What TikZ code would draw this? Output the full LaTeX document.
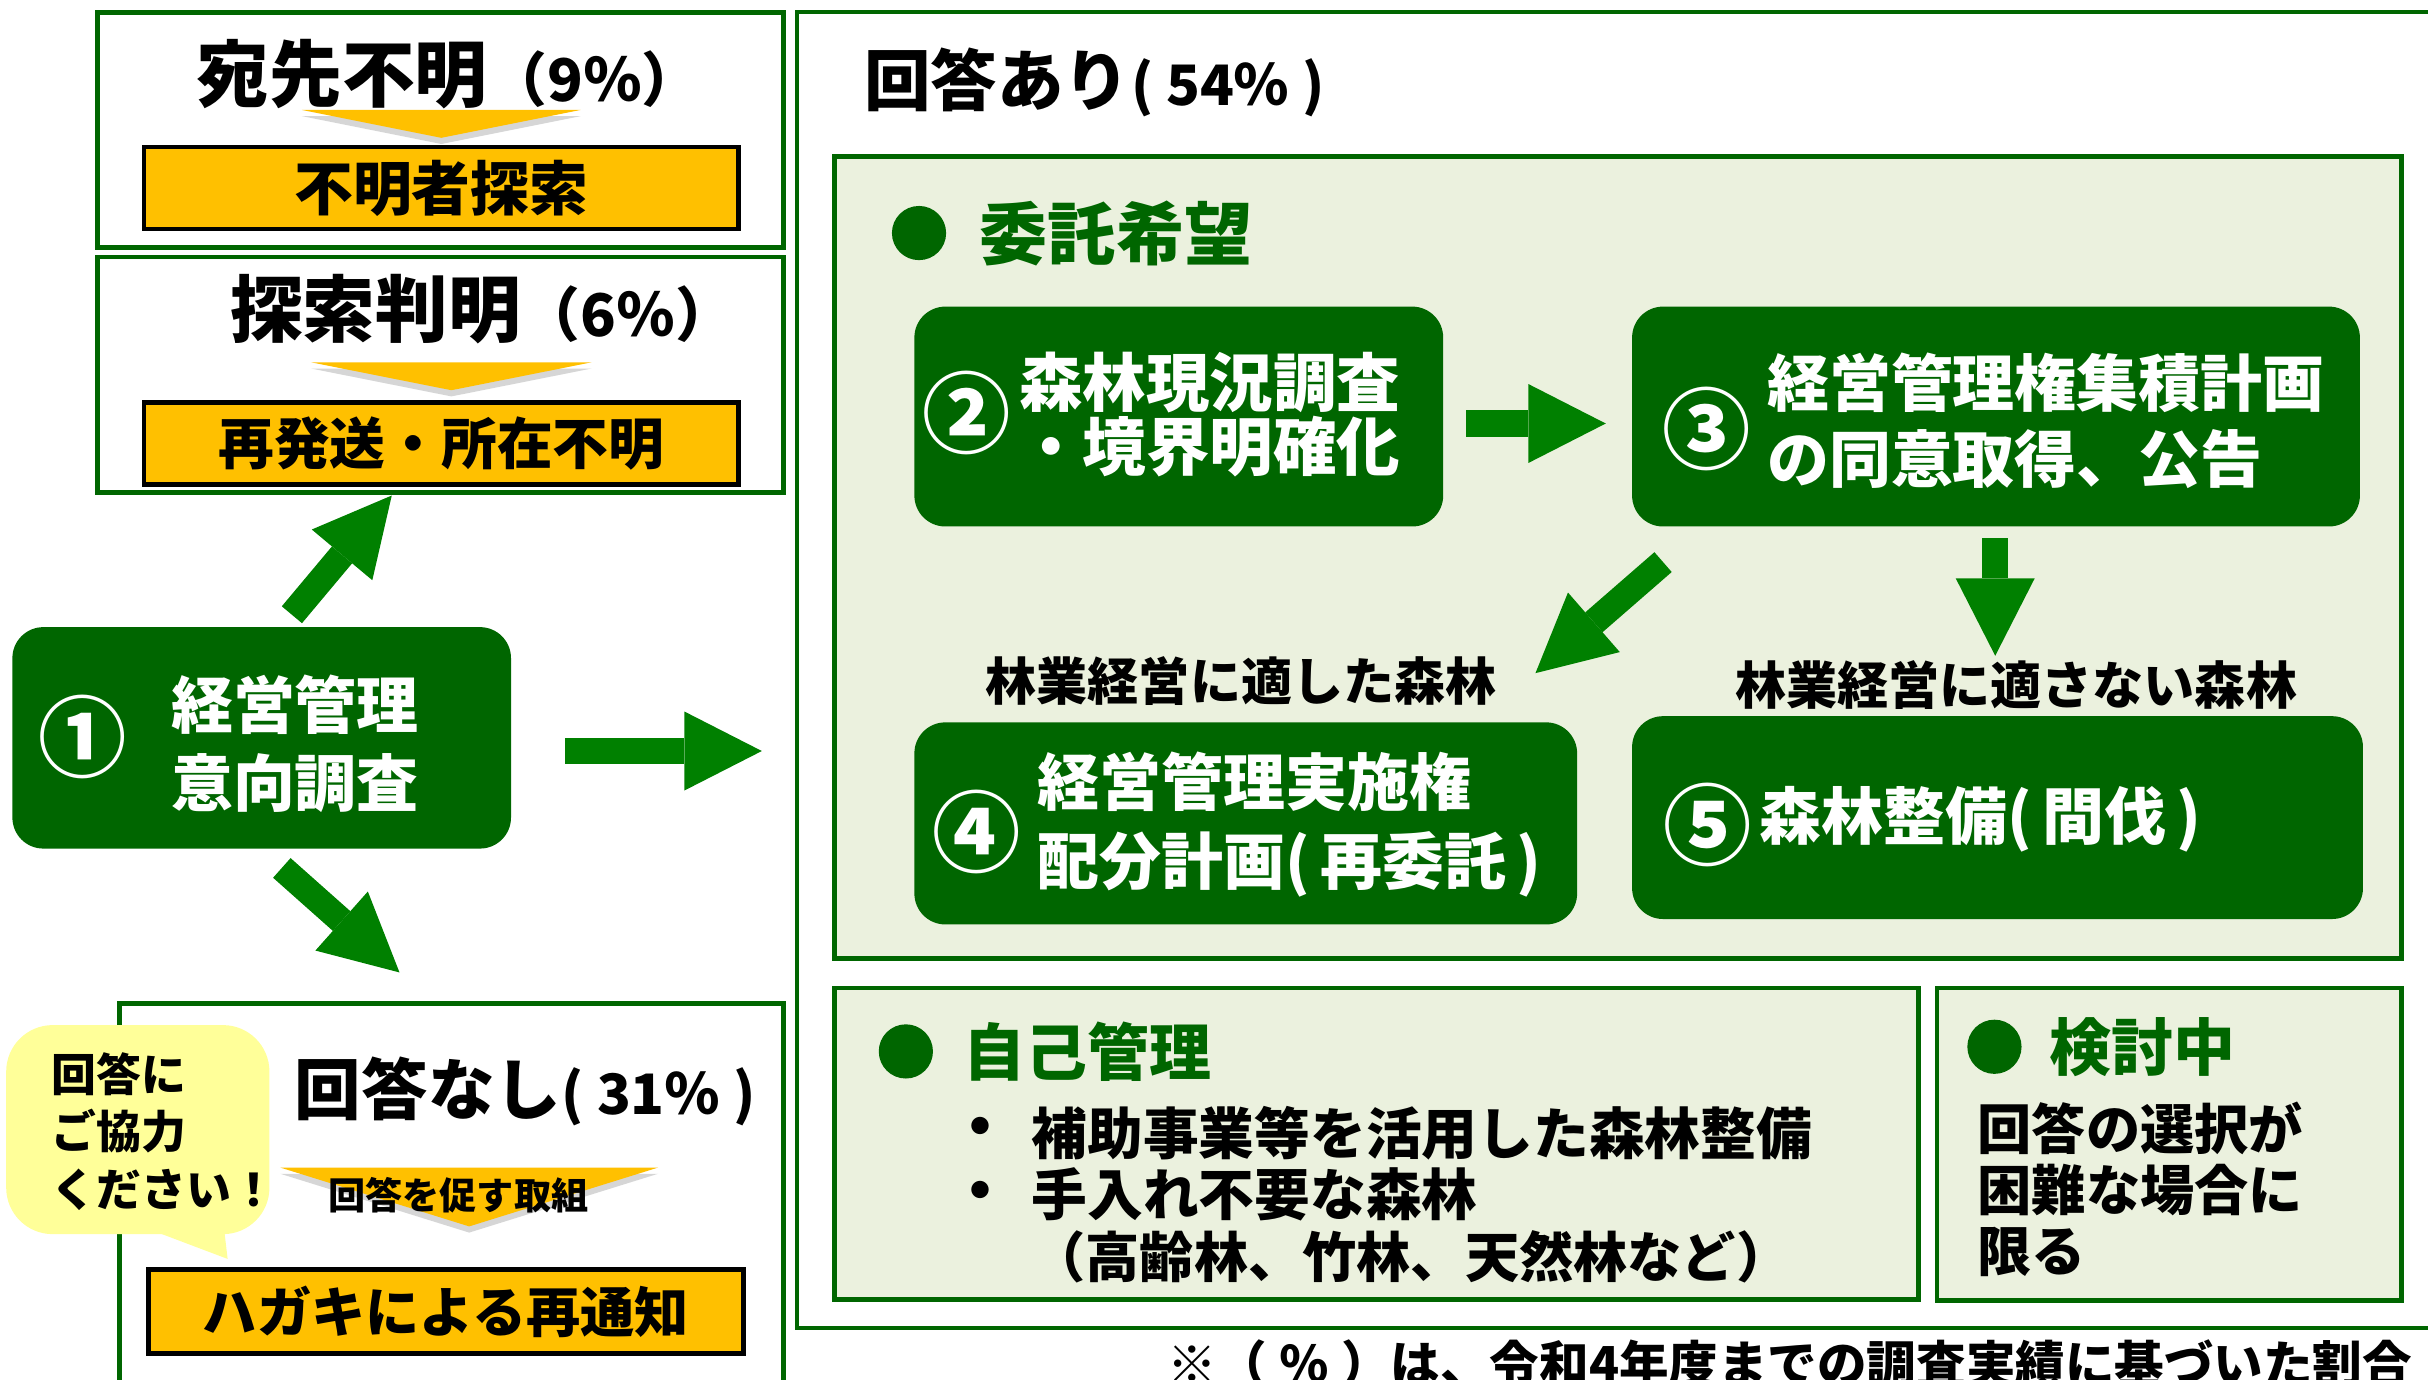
\documentclass[tikz,border=0pt]{standalone}
\usepackage{fontspec}
\setmainfont{Noto Sans CJK JP}
\usetikzlibrary{arrows.meta}
\definecolor{forest}{RGB}{0,102,0}
\definecolor{leaf}{RGB}{0,128,0}
\definecolor{pale}{RGB}{235,241,222}
\definecolor{amber}{RGB}{255,192,0}
\definecolor{lemon}{RGB}{255,255,153}
\newcommand{\fsz}[2]{\fontsize{#1}{#2}\selectfont}

\begin{document}
\begin{tikzpicture}[x=1pt, y=-1pt,
  frame/.style={draw=forest, line width=3pt, fill=white, inner sep=0pt},
  pane/.style={draw=forest, line width=3pt, fill=pale, inner sep=0pt},
  stage/.style={fill=forest, rounded corners=20pt, inner sep=0pt},
  tag/.style={draw=black, line width=3pt, fill=amber, inner sep=0pt, font=\bfseries\fsz{#1}{#1}},
  ttl/.style={font=\bfseries\fsz{#1}{#1}, inner sep=0pt},
  lst/.style 2 args={font=\bfseries\fsz{#1}{#2}, inner sep=0pt, align=left},
  wtxt/.style 2 args={text=white, font=\bfseries\fsz{#1}{#2}, inner sep=0pt, align=left},
  num/.style={text=white, font=\bfseries\fsz{57}{57}, inner sep=0pt},
  hdr/.style={text=forest, font=\bfseries\fsz{#1}{#1}, inner sep=0pt},
  dot/.style={circle, fill=forest, minimum size=35pt, inner sep=0pt},
  fat/.style={leaf, line width=17pt, -{Triangle[length=50pt 0 0, width=51pt 0 0, line width=0pt 0 0]}},
  wedge/.style={fill=amber},
  shade/.style={fill=black!35, opacity=0.45}]
\useasboundingbox (0,0) rectangle (1568,891);

\node[frame, minimum width=443, minimum height=152] (boxA) at (284.5,84) {};
\node[frame, minimum width=443, minimum height=152] (boxB) at (284.5,242) {};
\node[frame, minimum width=429, minimum height=312] (boxC) at (291.5,804) {};
\node[frame, line width=2.5pt, minimum width=1185, minimum height=849.5] (ans) at (1107,432.75) {};
\node[pane, minimum width=1012, minimum height=518] (wish) at (1045,360) {};
\node[pane, minimum width=700, minimum height=201] (self) at (889,738.5) {};
\node[pane, minimum width=300, minimum height=202] (tbd) at (1401,739) {};

\node[ttl=47] (hA) at (221,48) {宛先不明};
\node[ttl=38, anchor=base west] (pA) at (hA.base east) {（9％）};
\fill[shade] (195,75) -- (375,75) -- (285,93) -- cycle;
\fill[wedge] (195,71) -- (375,71) -- (285,89) -- cycle;
\node[tag=38, minimum width=384, minimum height=53] (tA) at (285,121.5) {不明者探索};

\node[ttl=47] (hB) at (242.6,199.5) {探索判明};
\node[ttl=38, anchor=base west] (pB) at (hB.base east) {（6％）};
\fill[shade] (201,238) -- (382,238) -- (291.5,256) -- cycle;
\fill[wedge] (201,234) -- (382,234) -- (291.5,252) -- cycle;
\node[tag=36, minimum width=384, minimum height=53] (tB) at (285,286.5) {再発送・所在不明};

\node[ttl=43] (hC) at (276.5,703.5) {回答なし};
\node[ttl=36, anchor=base west] (pC) at (hC.base east) {( 31％ )};
\fill[shade] (181,758) -- (425,758) -- (303,796) -- cycle;
\fill[wedge] (181,754) -- (425,754) -- (303,792) -- cycle;
\node[ttl=24] (pushC) at (296,772) {回答を促す取組};
\node[tag=35, minimum width=384, minimum height=54] (tC) at (288,847) {ハガキによる再通知};

\node[fill=lemon, rounded corners=30pt, minimum width=170, minimum height=135, inner sep=0pt] (bub) at (89,729.5) {};
\fill[lemon] (102,796) -- (145,796) -- (147,813) -- cycle;
\node[lst={29}{37.3}, anchor=west] (bubT) at (33,730.75) {回答に\\ご協力\\ください！};

\node[stage, minimum width=322, minimum height=143] (one) at (169,476.5) {};
\node[num] (n1) at (53.6,476) {①};
\node[wtxt={40}{50}, align=center] (t1) at (190.5,480.25) {経営管理\\意向調査};

\coordinate (upS) at (188.5,397);
\coordinate (upE) at (253,320);
\coordinate (dnS) at (182,560.5);
\coordinate (dnE) at (258,628);
\coordinate (rtS) at (365,485);
\coordinate (rtE) at (492,485);
\draw[fat] (upS) -- (upE);
\draw[fat] (dnS) -- (dnE);
\draw[fat] (rtS) -- (rtE);

\node[ttl=43] (hAns) at (644,51.5) {回答あり};
\node[ttl=36, anchor=base west] (pAns) at (hAns.base east) {( 54％ )};

\node[dot] (dW) at (593.5,150.5) {};
\node[hdr=44] (hW) at (720.75,150.5) {委託希望};
\node[stage, minimum width=341.5, minimum height=142] (two) at (761.25,269) {};
\node[num] (n2) at (624,267) {②};
\node[wtxt={41}{41.5}, anchor=west] (t2) at (658,267.75) {森林現況調査\\・境界明確化};
\node[stage, minimum width=470, minimum height=142] (three) at (1289,269) {};
\node[num] (n3) at (1102,277) {③};
\node[wtxt={40}{49}, anchor=west] (t3) at (1141,271.5) {経営管理権集積計画\\の同意取得、公告};
\node[stage, minimum width=428, minimum height=130.5] (four) at (804.5,531.75) {};
\node[num] (n4) at (631,537) {④};
\node[wtxt={40}{51}, anchor=west] (t4) at (670,532.5) {経営管理実施権\\配分計画(\,再委託\,)};
\node[stage, minimum width=472, minimum height=131] (five) at (1290,528) {};
\node[num] (n5) at (1102.5,532.5) {⑤};
\node[wtxt={40}{40}, anchor=west] (t5) at (1136,529) {森林整備(\,間伐\,)};

\node[ttl=33] (fitL) at (801.5,439.5) {林業経営に適した森林};
\node[ttl=33] (unfitL) at (1302,442.5) {林業経営に適さない森林};

\coordinate (w23S) at (947,273.5);
\coordinate (w23E) at (1037,273.5);
\coordinate (d35S) at (1288.5,347.6);
\coordinate (d35E) at (1288.5,423.5);
\coordinate (d34S) at (1074,363);
\coordinate (d34E) at (991.6,434.7);
\draw[fat] (w23S) -- (w23E);
\draw[fat] (d35S) -- (d35E);
\draw[fat] (d34S) -- (d34E);

\node[dot] (dS) at (585,679) {};
\node[hdr=40] (hS) at (702.5,679) {自己管理};
\node[ttl=40] (b1) at (633.5,732) {・};
\node[ttl=40] (b2) at (633.5,773) {・};
\node[lst={36}{40}, anchor=west] (sT) at (666,771.5) {補助事業等を活用した森林整備\\手入れ不要な森林\\{\fsz{35}{40}（高齢林、竹林、天然林など）}};

\node[dot] (dT) at (1288,676) {};
\node[hdr=40] (hT) at (1383.5,676.5) {検討中};
\node[lst={35}{39.5}, anchor=west] (tT) at (1277,768) {回答の選択が\\困難な場合に\\限る};

\node[ttl=32, anchor=north west] (note) at (754,865) {※（\hspace{8pt}％\hspace{8pt}）は、令和4年度までの調査実績に基づいた割合};
\end{tikzpicture}
\end{document}
